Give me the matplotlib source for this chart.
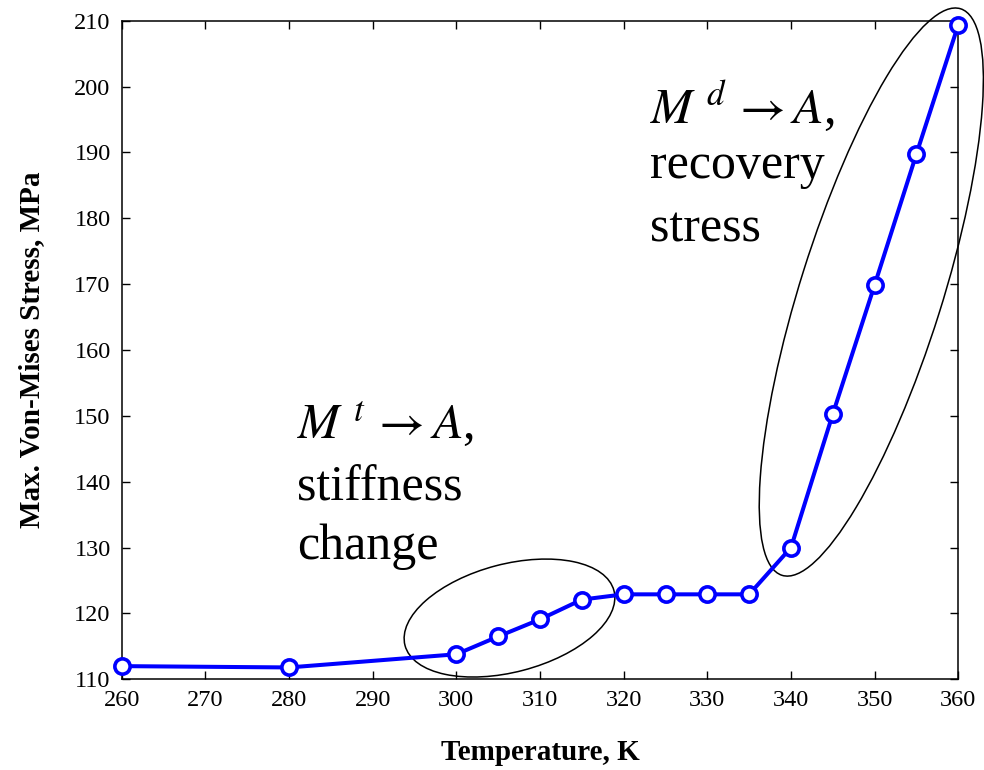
import matplotlib
matplotlib.use("Agg")
import matplotlib.pyplot as plt
from matplotlib.patches import Ellipse
from matplotlib.transforms import ScaledTranslation

# Temperature sweep and peak von Mises stress
temperature_K = [260, 280, 300, 305, 310, 315, 320, 325, 330, 335, 340, 345, 350, 355, 360]
max_stress_MPa = [112.0, 111.8, 113.8, 116.5, 119.1, 122.1, 122.9, 122.9, 122.9, 122.9,
                  130.0, 150.3, 169.9, 189.8, 209.4]

x_ticks = [260, 270, 280, 290, 300, 310, 320, 330, 340, 350, 360]
y_ticks = [110, 120, 130, 140, 150, 160, 170, 180, 190, 200, 210]

plt.rcParams["font.family"] = ["Liberation Serif", "DejaVu Serif"]
plt.rcParams["mathtext.fontset"] = "stix"

fig = plt.figure(figsize=(9.84, 7.70), dpi=100)
ax = fig.add_axes([0.1237, 0.1178, 0.9739 - 0.1237, 0.9731 - 0.1178])

ax.plot(temperature_K, max_stress_MPa, color="#0000ff", linewidth=2.9,
        marker="o", markersize=11, markeredgewidth=2.6,
        markerfacecolor="white", markeredgecolor="#0000ff", clip_on=False, zorder=3)

ax.set_xlim(260, 360)
ax.set_ylim(110, 210)
ax.set_xticks(x_ticks)
ax.set_yticks(y_ticks)
ax.tick_params(direction="in", length=6, width=1, top=True, right=True,
               labelsize=17.5, pad=8)
for s in ax.spines.values():
    s.set_linewidth(1.1)

ax.set_xlabel("Temperature, K", fontsize=21, fontweight="bold", labelpad=20)
ax.set_ylabel("Max. Von-Mises Stress, MPa", fontsize=21, fontweight="bold", labelpad=21)


def ring(cx, cy, w_in, h_in, angle):
    """Ellipse sized in inches, centred at a data point."""
    tr = fig.dpi_scale_trans + ScaledTranslation(cx, cy, ax.transData)
    e = Ellipse((0, 0), w_in, h_in, angle=angle, transform=tr, fill=False,
                edgecolor="black", linewidth=1.1, clip_on=False, zorder=2)
    ax.add_patch(e)


ring(306.35, 119.3, 2.16, 1.08, 14.7)
ring(349.6, 168.8, 5.94, 1.42, 72.5)

txt = dict(fontsize=36, va="baseline", ha="left")
ax.text(280.95, 146.6, r"$M^{\,\,t}\,\rightarrow A$,", **txt)
ax.text(280.95, 137.2, "stiffness", **txt)
ax.text(280.95, 128.3, "change", **txt)

ax.text(323.15, 194.45, r"$M^{\,\,d}\,\rightarrow A$,", **txt)
ax.text(323.15, 186.1, "recovery", **txt)
ax.text(323.15, 176.4, "stress", **txt)

fig.savefig("out.png", dpi=100)
